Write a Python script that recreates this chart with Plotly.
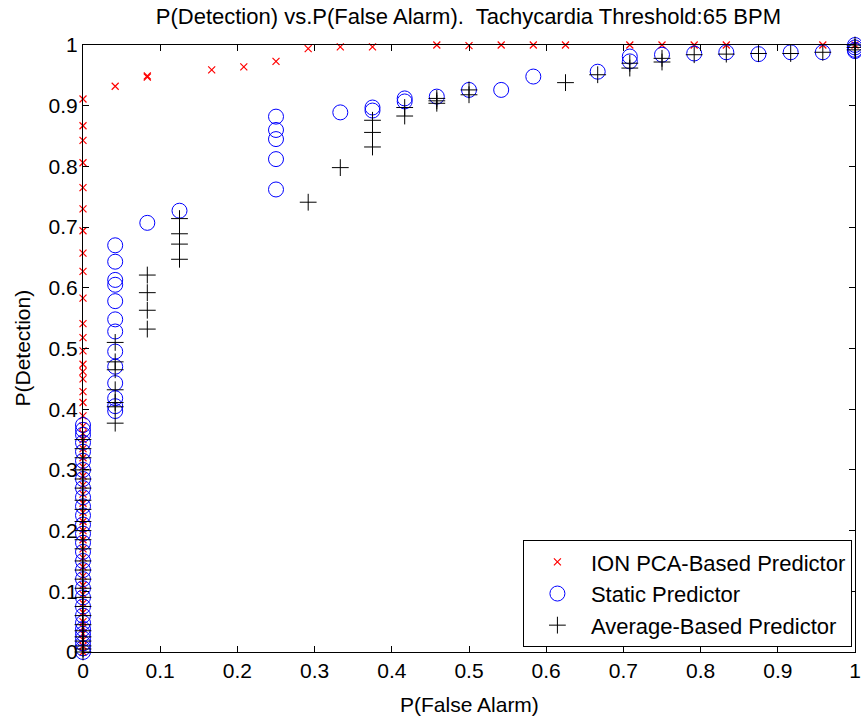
import plotly.graph_objects as go

# ---- data: P(False Alarm) columns and the P(Detection) values at each ----
ion_fa = [0.0, 0.0417, 0.0833, 0.1667, 0.2083, 0.25, 0.2917, 0.3333, 0.375,
          0.4583, 0.5, 0.5417, 0.5833, 0.625, 0.7083, 0.75, 0.7917, 0.8333,
          0.9583, 1.0]
ion_pd = [
    [0.911, 0.867, 0.843, 0.806, 0.765, 0.730, 0.694, 0.657, 0.627, 0.583,
     0.541, 0.518, 0.496, 0.474, 0.462, 0.450, 0.429, 0.411, 0.389, 0.372,
     0.36, 0.35, 0.335, 0.32, 0.305, 0.29, 0.275, 0.26, 0.245, 0.23, 0.215,
     0.2, 0.185, 0.17, 0.155, 0.14, 0.125, 0.11, 0.095, 0.08, 0.065, 0.05,
     0.04, 0.03, 0.02, 0.01, 0.0],
    [0.932], [0.947, 0.949], [0.959], [0.964], [0.973], [0.994], [0.997],
    [0.997], [1.0], [0.999], [1.0], [1.0], [1.0], [1.0], [1.0], [1.0],
    [1.0], [1.0], [1.0],
]

static_fa = [0.0, 0.0417, 0.0833, 0.125, 0.25, 0.3333, 0.375, 0.4167, 0.4583,
             0.5, 0.5417, 0.5833, 0.6667, 0.7083, 0.75, 0.7917, 0.8333, 0.875,
             0.9167, 0.9583, 1.0]
static_pd = [
    [0.374, 0.366, 0.358, 0.345, 0.33, 0.315, 0.30, 0.285, 0.27, 0.255,
     0.24, 0.225, 0.21, 0.195, 0.18, 0.165, 0.15, 0.135, 0.12, 0.105, 0.09,
     0.075, 0.06, 0.048, 0.038, 0.03, 0.022, 0.014, 0.006, 0.0],
    [0.670, 0.643, 0.613, 0.605, 0.578, 0.548, 0.528, 0.495, 0.470, 0.443,
     0.418, 0.405, 0.397],
    [0.707], [0.727], [0.882, 0.860, 0.845, 0.812, 0.762], [0.889],
    [0.897, 0.892], [0.912, 0.907], [0.915], [0.926], [0.926], [0.948],
    [0.956], [0.981, 0.973], [0.984], [0.986], [0.988], [0.985], [0.988],
    [0.988], [1.0, 0.996, 0.992, 0.99],
]

avg_fa = [0.0, 0.0417, 0.0833, 0.125, 0.2917, 0.3333, 0.375, 0.4167, 0.4583,
          0.5, 0.625, 0.6667, 0.7083, 0.75, 0.7917, 0.8333, 0.875, 0.9167,
          0.9583, 1.0]
avg_pd = [
    [0.35, 0.335, 0.32, 0.30, 0.285, 0.27, 0.25, 0.235, 0.215, 0.20, 0.185,
     0.17, 0.15, 0.135, 0.12, 0.105, 0.09, 0.075, 0.06, 0.045, 0.035, 0.025,
     0.018, 0.01, 0.005, 0.0],
    [0.510, 0.478, 0.465, 0.432, 0.411, 0.404, 0.377],
    [0.621, 0.592, 0.563, 0.532], [0.714, 0.689, 0.672, 0.647], [0.741],
    [0.798], [0.876, 0.856, 0.832], [0.897, 0.883], [0.912, 0.908, 0.904],
    [0.926, 0.918], [0.938], [0.951], [0.970, 0.962], [0.978, 0.972],
    [0.984], [0.985], [0.986], [0.986], [0.988], [1.0, 0.996, 0.992],
]

tick_vals = [0, 0.1, 0.2, 0.3, 0.4, 0.5, 0.6, 0.7, 0.8, 0.9, 1]
tick_text = ["0", "0.1", "0.2", "0.3", "0.4", "0.5", "0.6", "0.7", "0.8", "0.9", "1"]


def flatten(cols, vals):
    xs, ys = [], []
    for c, v in zip(cols, vals):
        for y in v:
            xs.append(c)
            ys.append(y)
    return xs, ys


FONT = "Liberation Sans"
fig = go.Figure()

x1, y1 = flatten(ion_fa, ion_pd)
fig.add_trace(go.Scatter(x=x1, y=y1, mode="markers", name="ION PCA-Based Predictor",
                         cliponaxis=False,
                         marker=dict(symbol="x-thin-open", size=7, color="#ff0000",
                                     line=dict(color="#ff0000", width=1.2))))
x2, y2 = flatten(static_fa, static_pd)
fig.add_trace(go.Scatter(x=x2, y=y2, mode="markers", name="Static Predictor",
                         cliponaxis=False,
                         marker=dict(symbol="circle-open", size=15, color="#0000ff",
                                     line=dict(color="#0000ff", width=1))))
x3, y3 = flatten(avg_fa, avg_pd)
fig.add_trace(go.Scatter(x=x3, y=y3, mode="markers", name="Average-Based Predictor",
                         cliponaxis=False,
                         marker=dict(symbol="cross-thin-open", size=12, color="#000000",
                                     line=dict(color="#000000", width=1))))

axis_common = dict(range=[0, 1], tickvals=tick_vals, ticktext=tick_text,
                   showgrid=False, zeroline=False, showline=True, mirror="ticks",
                   linecolor="black", linewidth=1, ticks="inside", ticklen=6,
                   tickwidth=1, tickcolor="black", automargin=False,
                   ticklabeloverflow="allow",
                   tickfont=dict(family=FONT, size=21, color="black"))

fig.update_layout(
    width=861, height=721,
    margin=dict(l=83, r=6, t=45, b=69, autoexpand=False),
    paper_bgcolor="white", plot_bgcolor="white",
    font=dict(family=FONT, size=20, color="black"),
    title=dict(text="P(Detection) vs.P(False Alarm).  Tachycardia Threshold:65 BPM",
               x=0.544, xanchor="center", y=0.978, yanchor="middle",
               font=dict(family=FONT, size=22, color="black")),
    xaxis=axis_common,
    yaxis=axis_common,
    legend=dict(x=0.996, y=0.008, xanchor="right", yanchor="bottom",
                bgcolor="white", bordercolor="black", borderwidth=1,
                font=dict(family=FONT, size=22, color="black"),
                itemwidth=57, tracegroupgap=0,
                entrywidth=282, entrywidthmode="pixels"),
    showlegend=True,
    annotations=[
        dict(text="P(False Alarm)", xref="paper", yref="paper", x=0.5, y=-0.0873,
             xanchor="center", yanchor="middle", showarrow=False,
             font=dict(family=FONT, size=21, color="black")),
        dict(text="P(Detection)", xref="paper", yref="paper", x=-0.079, y=0.5,
             xanchor="center", yanchor="middle", showarrow=False, textangle=-90,
             font=dict(family=FONT, size=21, color="black")),
    ],
)

fig.write_html("out.html", config={"displayModeBar": False},
               post_script="document.body.style.margin='0';document.body.style.padding='0';")
